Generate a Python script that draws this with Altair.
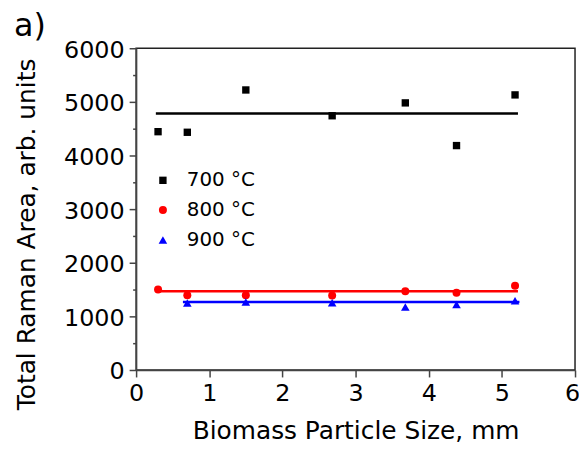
import altair as alt
import pandas as pd

FONT = "DejaVu Sans"

# ---- data ----
series = ["700 °C", "800 °C", "900 °C"]
series_colors = ["#000000", "#ff0000", "#0000ff"]
series_shapes = ["square", "circle", "triangle-up"]
series_marker_area = [55, 75, 95]

sizes_700 = [0.3, 0.7, 1.5, 2.68, 3.68, 4.38, 5.18]
area_700 = [4444, 4433, 5222, 4741, 4981, 4185, 5130]

sizes_800 = [0.3, 0.7, 1.5, 2.68, 3.68, 4.38, 5.18]
area_800 = [1500, 1396, 1396, 1389, 1470, 1439, 1569]

sizes_900 = [0.7, 1.5, 2.68, 3.68, 4.38, 5.18]
area_900 = [1248, 1267, 1254, 1174, 1222, 1291]

# horizontal fit lines (level, start, end)
fit_level = [4785, 1470, 1267]
fit_start = [0.27, 0.30, 0.64]
fit_end = [5.22, 5.22, 5.24]

x_ticks = [0, 0.5, 1, 1.5, 2, 2.5, 3, 3.5, 4, 4.5, 5, 5.5, 6]
y_ticks = [0, 500, 1000, 1500, 2000, 2500, 3000, 3500, 4000, 4500, 5000, 5500, 6000]

# ---- tables ----
rows = []
for s, xs, ys in zip(series, [sizes_700, sizes_800, sizes_900], [area_700, area_800, area_900]):
    for xv, yv in zip(xs, ys):
        rows.append({"size": xv, "area": yv, "series": s})
points_df = pd.DataFrame(rows)

x_scale = alt.Scale(domain=[0, 6], nice=False, zero=False)
y_scale = alt.Scale(domain=[0, 6000], nice=False)

x_axis = alt.Axis(
    values=x_ticks, format="d",
    labelExpr="datum.value % 1 === 0 ? datum.label : ''",
    tickSize={"condition": {"test": "datum.value % 1 === 0", "value": 7}, "value": 3.5},
    labelOffset={"condition": {"test": "datum.value === 6", "value": -3}, "value": 0},
    title="Biomass Particle Size, mm",
    labelFlush=False, labelOverlap=False, grid=False,
    labelPadding=5, titleY=69, titleBaseline="alphabetic",
)
y_axis = alt.Axis(
    values=y_ticks, format="d",
    labelExpr="datum.value % 1000 === 0 ? datum.label : ''",
    tickSize={"condition": {"test": "datum.value % 1000 === 0", "value": 7}, "value": 3.5},
    title="Total Raman Area, arb. units",
    labelFlush=False, labelOverlap=False, grid=False,
    labelPadding=5, labelOffset=2,
    titleX=-102, titleY=187, titleBaseline="alphabetic",
)

X = alt.X("size:Q", scale=x_scale, axis=x_axis)
Y = alt.Y("area:Q", scale=y_scale, axis=y_axis)

layers = []
for s, c, lv, x0, x1 in zip(series, series_colors, fit_level, fit_start, fit_end):
    ldf = pd.DataFrame({"size": [x0, x1], "area": [lv, lv]})
    layers.append(
        alt.Chart(ldf).mark_line(color=c, strokeWidth=2.5).encode(x=X, y=Y)
    )

legend_cfg = dict(
    orient="none", legendX=17, legendY=123, title=None,
    labelFont=FONT, labelFontSize=20, labelColor="#000000",
    symbolSize=55, symbolStrokeWidth=0, symbolOpacity=1,
    rowPadding=10, labelOffset=14, padding=0,
)

points = alt.Chart(points_df).mark_point(filled=True, opacity=1).encode(
    x=X,
    y=Y,
    color=alt.Color(
        "series:N",
        scale=alt.Scale(domain=series, range=series_colors),
        legend=alt.Legend(**legend_cfg),
    ),
    shape=alt.Shape(
        "series:N",
        scale=alt.Scale(domain=series, range=series_shapes),
        legend=alt.Legend(**legend_cfg),
    ),
    size=alt.Size(
        "series:N",
        scale=alt.Scale(domain=series, range=series_marker_area),
        legend=None,
    ),
)

label_df = pd.DataFrame({"t": ["a)"]})
panel_label = alt.Chart(label_df).mark_text(
    align="left", baseline="alphabetic", fontSize=32, font=FONT, color="#000000"
).encode(x=alt.value(-123), y=alt.value(-12), text="t:N")

chart = alt.layer(*layers, points, panel_label).properties(
    width=442,
    height=324,
    autosize=alt.AutoSizeParams(type="none"),
    padding={"left": 129, "top": 39, "right": 4, "bottom": 73},
    background="white",
).configure_view(
    stroke="#222222", strokeWidth=1.5
).configure_axis(
    labelFont=FONT, labelFontSize=24, labelColor="#000000",
    titleFont=FONT, titleFontSize=25, titleColor="#000000", titleFontWeight="normal",
    domainColor="#444444", domainWidth=1.5,
    tickColor="#444444", tickWidth=1.5,
)

chart.save("out.html", embed_options={"renderer": "svg", "actions": False})
